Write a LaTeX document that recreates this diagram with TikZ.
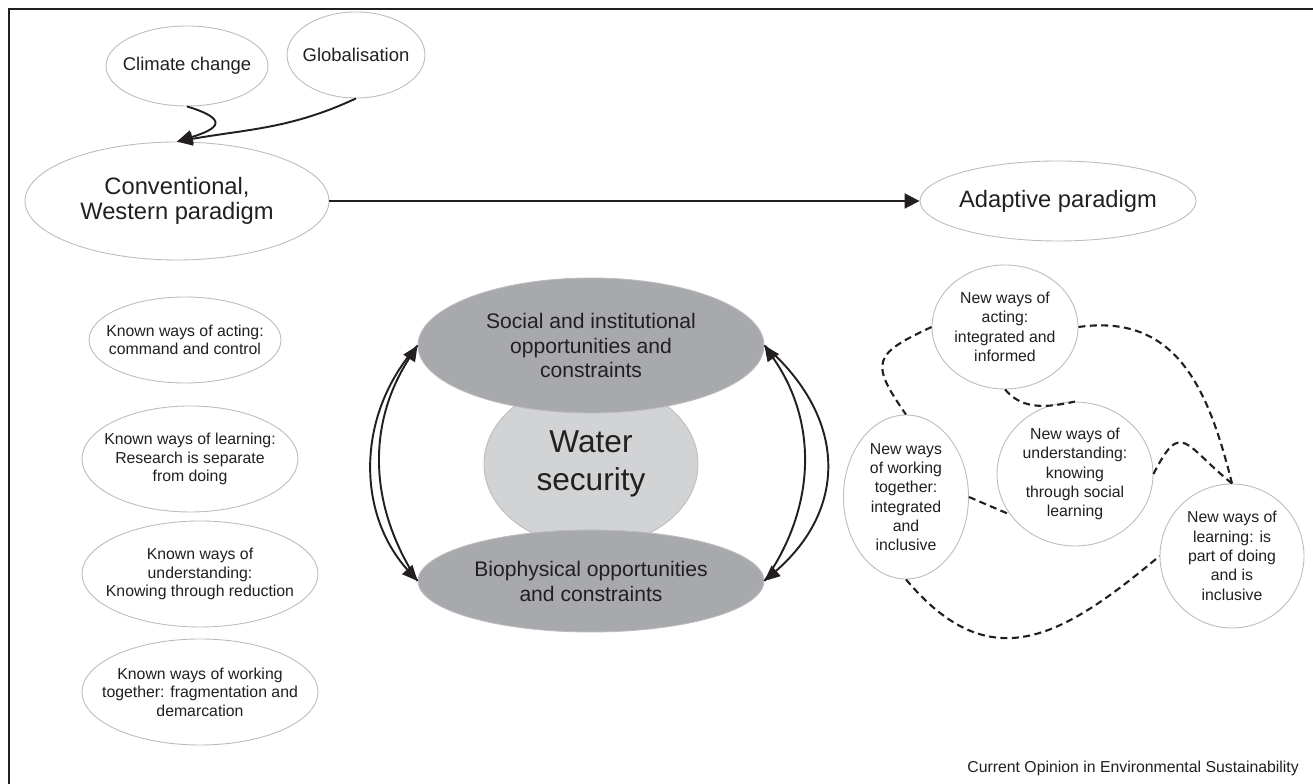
\documentclass[tikz,border=0pt]{standalone}
\usepackage{fontspec}
\setmainfont{Liberation Sans}
\usetikzlibrary{shapes.geometric}
\usetikzlibrary{arrows.meta}

\definecolor{outlineGray}{RGB}{188,188,188}
\definecolor{darkFill}{RGB}{167,169,172}
\definecolor{lightFill}{RGB}{209,211,212}
\definecolor{inkBlack}{RGB}{35,31,32}

\begin{document}
\begin{tikzpicture}[
        ellipseNode/.style = {ellipse,draw=outlineGray,fill=white,text=inkBlack,align=center,inner sep=-4mm,line width=0.5pt},
        smallNode/.style = {ellipseNode,font=\fontsize{9}{10.5}\selectfont}, % known ways, left column
        newNode/.style = {ellipseNode,font=\fontsize{9}{11}\selectfont}, % new ways, right cluster
        topicNode/.style = {ellipseNode,font=\fontsize{10.5}{12}\selectfont},
        paradigmNode/.style = {ellipseNode,font=\fontsize{13.5}{14.5}\selectfont},
        darkNode/.style = {ellipseNode,fill=darkFill,font=\fontsize{12}{14.2}\selectfont},
        coreNode/.style = {ellipseNode,fill=lightFill,font=\fontsize{18}{22}\selectfont},
        mainArrow/.style = {-{Triangle[length=3mm,width=3mm]},line width=1.1pt,draw=inkBlack},
        loopArrow/.style = {-{Triangle[length=3.1mm,width=2.7mm]},line width=1.1pt,draw=inkBlack},
        dashLink/.style = {dash pattern=on 4pt off 2.5pt,line width=1.2pt,draw=inkBlack}
        ]
        \useasboundingbox (0,0) rectangle (26.26,15.68);
        \draw[line width=1pt,inkBlack] (0.18,0) -- (0.18,15.50) -- (26.26,15.50);

        % drivers and paradigms
        \node[topicNode,minimum width=3.24cm,minimum height=1.6cm] (climate) at (3.74,14.36) {Climate change};
        \node[topicNode,minimum width=2.76cm,minimum height=1.72cm] (globe) at (7.12,14.58) {Globalisation};
        \node[paradigmNode,minimum width=6.08cm,minimum height=2.36cm] (conventional) at (3.54,11.66) {Conventional,\\Western paradigm};
        \node[paradigmNode,minimum width=5.52cm,minimum height=1.6cm] (adaptive) at (21.16,11.66) {Adaptive paradigm};

        % known ways
        \node[smallNode,minimum width=3.84cm,minimum height=1.72cm] (knownActing) at (3.70,8.88) {Known ways of acting:\\command and control};
        \node[smallNode,minimum width=4.32cm,minimum height=2.12cm] (knownLearning) at (3.80,6.50) {Known ways of learning:\\Research is separate\\from doing};
        \node[smallNode,minimum width=4.72cm,minimum height=2.12cm] (knownUnderstanding) at (4.00,4.20) {Known ways of\\understanding:\\Knowing through reduction};
        \node[smallNode,minimum width=4.72cm,minimum height=2.12cm] (knownWorking) at (4.00,1.84) {Known ways of working\\together: fragmentation and\\demarcation};

        % core
        \node[coreNode,minimum width=4.28cm,minimum height=3.3cm] (water) at (11.82,6.40) {Water\\security};
        \node[darkNode,minimum width=6.92cm,minimum height=2.7cm] (social) at (11.82,8.77) {Social and institutional\\opportunities and\\constraints};
        \node[darkNode,minimum width=6.92cm,minimum height=2.04cm] (bio) at (11.82,4.06) {Biophysical opportunities\\and constraints};

        % new ways
        \node[newNode,minimum width=2.92cm,minimum height=2.48cm] (newActing) at (20.10,9.14) {New ways of\\acting:\\integrated and\\informed};
        \node[newNode,minimum width=2.50cm,minimum height=3.28cm] (newWorking) at (18.12,5.74) {New ways\\of working\\together:\\integrated\\and\\inclusive};
        \node[newNode,minimum width=3.12cm,minimum height=2.88cm] (newUnderstanding) at (21.50,6.20) {New ways of\\understanding:\\knowing\\through social\\learning};
        \node[newNode,minimum width=2.88cm,minimum height=2.88cm] (newLearning) at (24.64,4.56) {New ways of\\learning: is\\part of doing\\and is\\inclusive};

        \node[anchor=base east,font=\fontsize{9}{10}\selectfont,text=inkBlack] (source) at (26.10,0.22) {Current Opinion in Environmental Sustainability};

        % arrows
        \draw[loopArrow] (climate.south) to[out=-17,in=17,looseness=3.1] (conventional.north);
        \draw[loopArrow] (globe.south) to[out=205,in=10] (conventional.north);
        \draw[mainArrow] (conventional) -- (adaptive);

        \draw[loopArrow] (social.west) to[bend right=42] (bio.west);
        \draw[loopArrow] (bio.west) to[bend left=33] (social.west);
        \draw[loopArrow] (social.east) to[bend left=49,looseness=1.2] (bio.east);
        \draw[loopArrow] (bio.east) to[bend right=35] (social.east);

        % dashed links between new ways
        \draw[dashLink] (newActing.west) to[out=205,in=125,looseness=1.8] (newWorking.north);
        \draw[dashLink] (newActing.south) to[out=-50,in=192] (newUnderstanding.north);
        \draw[dashLink] (newActing.east) to[out=8,in=104,looseness=1.15] (newLearning.north);
        \draw[dashLink] (newUnderstanding.east) to[out=63,in=141,looseness=2] (newLearning.north);
        \draw[dashLink] (newWorking.east) -- (newUnderstanding.212);
        \draw[dashLink] (newWorking.south) to[out=-50,in=220,looseness=1.3] (newLearning.west);
\end{tikzpicture}
\end{document}
